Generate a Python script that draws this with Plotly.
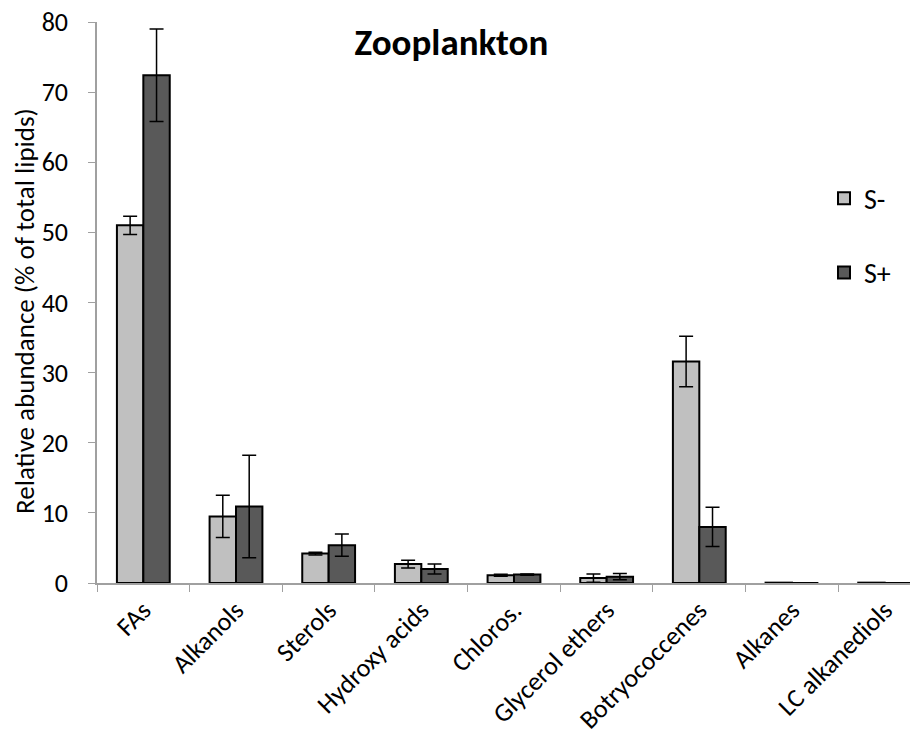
import plotly.graph_objects as go

categories = ["FAs", "Alkanols", "Sterols", "Hydroxy acids", "Chloros.",
              "Glycerol ethers", "Botryococcenes", "Alkanes", "LC alkanediols"]
s_minus = [51.0, 9.5, 4.2, 2.7, 1.1, 0.7, 31.6, 0.05, 0.05]
s_minus_err = [1.3, 3.0, 0.2, 0.55, 0.15, 0.6, 3.6, 0, 0]
s_plus = [72.4, 10.9, 5.4, 2.0, 1.2, 0.9, 8.0, 0, 0]
s_plus_err = [6.6, 7.3, 1.6, 0.7, 0.1, 0.45, 2.8, 0, 0]

font_family = "Calibri, Carlito, Lato, sans-serif"

fig = go.Figure()
fig.add_trace(go.Bar(
    x=categories, y=s_minus, name="S-", legendgroup="a",
    marker=dict(color="#c0c0c0", line=dict(color="black", width=2)),
    error_y=dict(type="data", array=s_minus_err, color="black", thickness=1.5, width=7)))
fig.add_trace(go.Bar(
    x=categories, y=s_plus, name="S+", legendgroup="b",
    marker=dict(color="#595959", line=dict(color="black", width=2)),
    error_y=dict(type="data", array=s_plus_err, color="black", thickness=1.5, width=7)))

# page is drawn with an 8px body offset, margins compensate for it
fig.update_layout(
    width=918, height=739,
    margin=dict(l=89, r=8, t=14, b=164),
    paper_bgcolor="white", plot_bgcolor="white",
    font=dict(family=font_family, color="black"),
    barmode="group", bargap=0.43, bargroupgap=0,
    title=dict(text="<b>Zooplankton</b>", x=0.483, xanchor="center",
               y=0.954, yanchor="middle", font=dict(size=37)),
    legend=dict(x=0.8855, y=0.73, xanchor="left", yanchor="top",
                tracegroupgap=35, font=dict(size=28),
                bgcolor="rgba(0,0,0,0)"),
)
fig.update_xaxes(
    type="category", range=[-0.5, 8.36], tickson="boundaries",
    showline=True, linecolor="#a0a0a0", linewidth=1.5,
    ticks="outside", ticklen=7, tickcolor="#a0a0a0",
    tickangle=-45, tickfont=dict(size=26), showgrid=False, automargin=False,
    ticklabeloverflow="allow")
fig.update_yaxes(
    range=[0, 80], dtick=10, showgrid=False, zeroline=False,
    showline=True, linecolor="#a0a0a0", linewidth=1.5,
    ticks="outside", ticklen=7, tickcolor="#a0a0a0",
    tickfont=dict(size=26), ticklabelstandoff=15, automargin=False,
    ticklabeloverflow="allow")

# y title placed as annotation to sit close to the left edge
fig.add_annotation(
    text="Relative abundance (% of total lipids)", textangle=-90,
    xref="paper", yref="paper", x=-0.0877, y=0.485,
    xanchor="center", yanchor="middle", showarrow=False,
    font=dict(size=27))

fig.write_html("out.html")
